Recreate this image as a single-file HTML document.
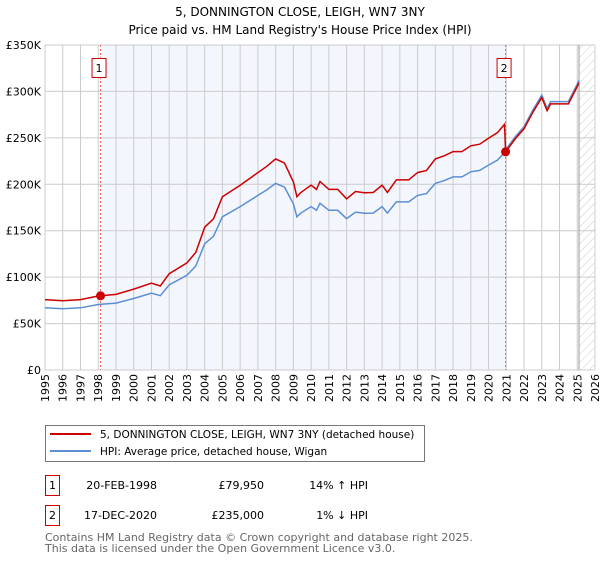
<!DOCTYPE html>
<html><head><meta charset="utf-8"><style>
body{margin:0;width:600px;height:560px;background:#fff;font-family:"DejaVu Sans","Liberation Sans",sans-serif;overflow:hidden}
svg text{font-family:"DejaVu Sans","Liberation Sans",sans-serif}
</style></head><body>
<svg id="chart" width="600" height="560" xmlns="http://www.w3.org/2000/svg">
<defs><pattern id="hatch" width="6" height="6" patternUnits="userSpaceOnUse" patternTransform="rotate(45)"><line x1="0" y1="0" x2="0" y2="6" stroke="#ccc" stroke-width="1"/></pattern></defs>
<text x="300" y="16" text-anchor="middle" font-size="12">5, DONNINGTON CLOSE, LEIGH, WN7 3NY</text>
<text x="300" y="34" text-anchor="middle" font-size="12">Price paid vs. HM Land Registry's House Price Index (HPI)</text>
<g id="plot"></g>
<g>
<rect x="45.5" y="425.5" width="379" height="36" fill="#fff" stroke="#777"/>
<line x1="50" y1="434" x2="91" y2="434" stroke="#cc0000" stroke-width="2"/>
<text x="100" y="438" font-size="10.5">5, DONNINGTON CLOSE, LEIGH, WN7 3NY (detached house)</text>
<line x1="50" y1="451" x2="91" y2="451" stroke="#5b8fd4" stroke-width="2"/>
<text x="100" y="455" font-size="10.5">HPI: Average price, detached house, Wigan</text>
</g>
<g font-size="11">
<rect x="45.5" y="475.5" width="14" height="20" fill="#fff" stroke="#cc0000"/><text x="52.5" y="489" text-anchor="middle">1</text>
<text x="157" y="489" text-anchor="end">20-FEB-1998</text><text x="264" y="489" text-anchor="end">£79,950</text><text x="368" y="489" text-anchor="end">14% ↑ HPI</text>
<rect x="45.5" y="505.5" width="14" height="20" fill="#fff" stroke="#cc0000"/><text x="52.5" y="519" text-anchor="middle">2</text>
<text x="157" y="519" text-anchor="end">17-DEC-2020</text><text x="264" y="519" text-anchor="end">£235,000</text><text x="368" y="519" text-anchor="end">1% ↓ HPI</text>
</g>
<text x="45" y="541" font-size="11" fill="#666">Contains HM Land Registry data © Crown copyright and database right 2025.</text>
<text x="45" y="552" font-size="11" fill="#666">This data is licensed under the Open Government Licence v3.0.</text>
</svg>
<script>
const hpiYears=[1995,1996,1997,1998,1999,2000,2001,2001.5,2002,2003,2003.5,2004,2004.5,2005,2006,2007,2007.5,2008,2008.5,2009,2009.2,2009.4,2010,2010.3,2010.5,2011,2011.5,2012,2012.5,2013,2013.5,2014,2014.3,2014.8,2015.5,2016,2016.5,2017,2017.5,2018,2018.5,2019,2019.5,2020,2020.5,2020.9,2020.96,2021.5,2022,2022.5,2023,2023.3,2023.5,2024,2024.5,2025,2025.1];
const hpiValues=[67,66,67,70.5,72,77,82.7,80,91.7,102,112,136,144,165,176,188,194,201,197,179,165,168.7,176,172,179.5,172,172,163,170,168.7,169,176,169,181,181,188,190,201,204,208,208,213.5,215,220.7,226,234,237,251,262,280,296,281.6,289,289,289,308,312];
const sale1=[1998.13,79950];
const sale2=[2020.96,235000];
const yTicks=[0,50,100,150,200,250,300,350];
const xYears=[];for(let y=1995;y<=2026;y++)xYears.push(y);
const X0=45,X1=595,Y0=370,Y1=45;
const xs=y=>X0+(y-1995)/31*(X1-X0);
const ys=v=>Y0-v/350*(Y0-Y1);
const NS="http://www.w3.org/2000/svg";
const g=document.getElementById('plot');
function mk(t,a){const e=document.createElementNS(NS,t);for(const k in a)e.setAttribute(k,a[k]);g.appendChild(e);return e;}
let e=mk('rect',{x:xs(sale1[0]),y:Y1,width:xs(sale2[0])-xs(sale1[0]),height:Y0-Y1,fill:'#f3f6fd'});


e=mk('rect',{x:xs(2025.1),y:Y1,width:X1-xs(2025.1),height:Y0-Y1,fill:'url(#hatch)'});


xYears.forEach(y=>{const l=mk('line',{x1:xs(y),x2:xs(y),y1:Y1,y2:Y0,stroke:'#ccc','stroke-width':1});


const t=mk('text',{x:0,y:0,'font-size':11,'text-anchor':'end',transform:`translate(${xs(y)+4},${Y0+4}) rotate(-90)`});t.textContent=y;

});
yTicks.forEach(v=>{const l=mk('line',{x1:X0,x2:X1,y1:ys(v),y2:ys(v),stroke:'#ccc','stroke-width':1});


const t=mk('text',{x:X0-4,y:ys(v)+4,'font-size':11,'text-anchor':'end'});t.textContent=v===0?'£0':'£'+v+'K';

});
e=mk('line',{x1:xs(2025.1),x2:xs(2025.1),y1:Y1,y2:Y0,stroke:'#999','stroke-width':1});


[sale1,sale2].forEach((s,i)=>{const l=mk('line',{x1:xs(s[0]),x2:xs(s[0]),y1:Y1,y2:Y0,stroke:'#ee6666','stroke-dasharray':'2,2','stroke-width':1});


const r=mk('rect',{x:xs(s[0])-8.5,y:58.5,width:14,height:19,fill:'#fff',stroke:'#cc0000'});


const t=mk('text',{x:xs(s[0])-1.5,y:72,'font-size':11,'text-anchor':'middle'});t.textContent=i+1;

});
function hpiAt(y){for(let i=1;i<hpiYears.length;i++)if(y<=hpiYears[i]){const f=(y-hpiYears[i-1])/(hpiYears[i]-hpiYears[i-1]);return hpiValues[i-1]+f*(hpiValues[i]-hpiValues[i-1]);}return hpiValues[hpiValues.length-1];}
const r1=sale1[1]/1000/hpiAt(sale1[0]), r2=sale2[1]/1000/hpiAt(sale2[0]);
let hp='',rp='';
hpiYears.forEach((y,i)=>{hp+=(i?'L':'M')+xs(y).toFixed(1)+','+ys(hpiValues[i]).toFixed(1);});
hpiYears.forEach((y,i)=>{const rr=y<sale2[0]-0.01?hpiValues[i]*Math.max(r1,1.13):r2*hpiValues[i];
rp+=(i?'L':'M')+xs(y).toFixed(1)+','+ys(rr).toFixed(1);});
e=mk('path',{d:hp,fill:'none',stroke:'#5b8fd4','stroke-width':1.5});


e=mk('path',{d:rp,fill:'none',stroke:'#cc0000','stroke-width':1.5});


[sale1,sale2].forEach(s=>{const c=mk('circle',{cx:xs(s[0]),cy:ys(s[1]/1000),r:4.5,fill:'#cc0000'});

});
</script>
</body></html>
